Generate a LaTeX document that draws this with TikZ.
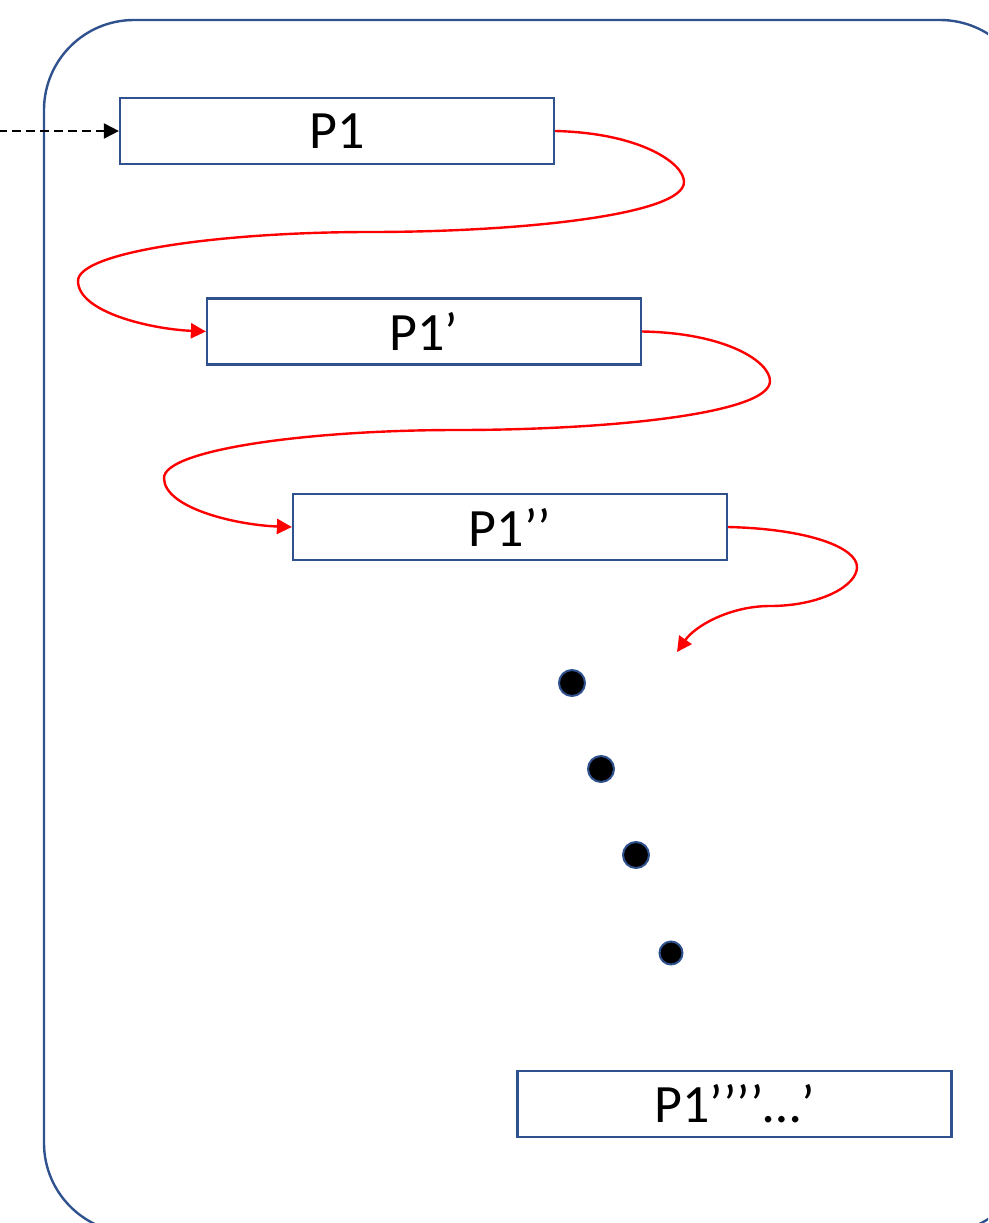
\documentclass[tikz,border=0pt]{standalone}
\usepackage{fontspec}
\setmainfont{Carlito}
\usetikzlibrary{arrows.meta}
\definecolor{frameblue}{RGB}{47,82,143}
\definecolor{flowred}{RGB}{255,0,0}
\tikzset{
  pbox/.style={draw=frameblue, line width=2.2pt, fill=white, minimum width=434pt,
    minimum height=66pt, inner sep=0pt, font=\fontsize{54}{64}\selectfont},
  flow/.style={draw=flowred, line width=2.4pt, -{Triangle[length=15pt,width=15pt]}},
  feed/.style={draw=black, line width=2pt, dash pattern=on 9pt off 5pt,
    -{Triangle[length=15pt,width=15pt]}},
  dot/.style={circle, fill=black, draw=frameblue, line width=2pt, inner sep=0pt}
}
\begin{document}
\begin{tikzpicture}[x=1pt,y=-1pt]
\useasboundingbox (0,0) rectangle (988,1223);
\begin{scope}
  \clip (0,0) rectangle (988,1223);
  % outer rounded frame, running past the right and bottom edges
  \draw[frameblue, line width=2.4pt, rounded corners=90pt] (44,20) rectangle (1030,1233);
\end{scope}

% process boxes
\node[pbox] (p0) at (337,131) {P1};
\node[pbox] (p1) at (424,331.5) {P1’};
\node[pbox] (p2) at (510,527) {P1’’};
\node[pbox] (pn) at (734.5,1104) {P1’’’’…’};

% incoming dashed arrow
\coordinate (in) at (-2,131);
\draw[feed] (in) -- (p0.west);

% S-shaped transitions between boxes
\draw[flow] (p0.east) .. controls (640,133) and (684,163) .. (684,182)
  .. controls (684,215) and (520,232) .. (370,232)
  .. controls (220,232) and (78,252) .. (78,281)
  .. controls (78,312) and (150,329) .. (p1.west);
\draw[flow] (p1.east) .. controls (727,333) and (770,362) .. (770,381)
  .. controls (770,414) and (607,430) .. (457,430)
  .. controls (307,430) and (164,450) .. (164,478)
  .. controls (164,508) and (236,525) .. (p2.west);
\coordinate (tail) at (677,652);
\draw[flow] (p2.east) .. controls (810,529) and (857,548) .. (857,567)
  .. controls (857,586) and (820,606) .. (770,606)
  .. controls (730,606) and (695,626) .. (tail);

% ellipsis dots
\node[dot, minimum size=26pt] (d1) at (572,683) {};
\node[dot, minimum size=26pt] (d2) at (601,769) {};
\node[dot, minimum size=26pt] (d3) at (636,855) {};
\node[dot, minimum size=23pt] (d4) at (671,953) {};
\end{tikzpicture}
\end{document}
